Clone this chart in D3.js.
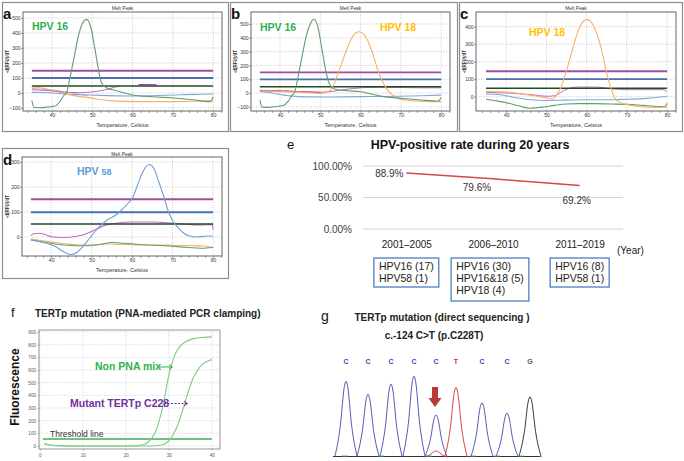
<!DOCTYPE html>
<html><head><meta charset="utf-8">
<script src="https://cdn.jsdelivr.net/npm/d3@7"></script>
<style>
body{margin:0;background:#fff;}
svg{display:block;font-family:"Liberation Sans",Arial,sans-serif;}
</style></head><body>
<svg id="chart" width="684" height="461"></svg>
<script>
// ================= DATA =================
// Melt peak panels (temperature °C, -d(RFU)/dT)
const meltTicksX = [40, 50, 60, 70, 80];
// panel a
const aLevels = [148, 100, 47];
const aHpv16 = [[35,-50],[35.5,-95],[37,-98],[39,-93],[41,-85],[42,-55],[43,-15],[43.6,0],[44.5,108],[45.5,240],[46.5,375],[47.5,460],[48.6,491],[49.6,440],[50.7,287],[51.5,160],[52.3,67],[53.6,33],[56,15],[60,-13],[65,-25],[70,-33],[75,-45],[79.3,-58],[80,-25]];
const aOrange = [[35,40],[37,35],[39,25],[41,12],[43,-2],[44.5,-13],[46.5,-22],[48.6,-29],[51,-40],[54.4,-51],[58,-56],[64,-58],[70,-57],[75,-55],[80,-51]];
const aBlue = [[35,4],[38,3],[41,-2],[44,-8],[48,-12],[52,-16],[56,-19],[60,-20],[64,-19],[68,-15],[72,-12],[76,-9],[80,-7]];
const aMagenta = [[35,22],[38,18],[41,12],[44,4],[47,2],[50,8],[53,20],[55.5,38],[57,46]];
const aMagenta2 = [[61.5,55],[66,54]];
const aPink = [[35,30],[37,27],[40,20],[43,8],[46,-5],[49,-20]];
// panel b
const bLevels = [150, 99, 46];
const bHpv16 = [[35,-50],[35.5,-100],[37,-104],[39,-97],[41,-88],[42,-60],[43,-15],[43.6,5],[44.5,120],[45.5,270],[46.5,410],[47.5,500],[48.4,534],[49.4,480],[50.4,320],[51.3,170],[52.2,70],[53.5,30],[56,18],[60,9],[65,-22],[70,-38],[75,-50],[79.3,-58],[80,-30]];
const bOrange = [[35,15],[40,10],[45,5],[50,-2],[51.5,5],[52.8,30],[54.4,142],[56,270],[57.5,380],[58.8,435],[59.8,444],[61,420],[62.5,330],[64.3,167],[65.5,80],[67,10],[68.5,-25],[70.1,-46],[74,-58],[78,-62],[80,-62]];
const bBlue = [[35,10],[37,5],[39,-5],[41,-15],[44,-24],[48,-28],[52,-29],[56,-28],[60,-26],[65,-25],[70,-23],[75,-20],[80,-15]];
const bMagenta = [[35,20],[38,18],[42,14],[46,9],[50,6],[53,12],[56,25],[60,38],[65,42],[70,40],[75,38],[80,38]];
const bRed = [[35,18],[38,17],[42,13],[46,9],[50,5]];
// panel c
const cLevels = [145, 100, 48];
const cOrange = [[35,30],[38,28],[41,25],[44,15],[47,5],[50,-8],[51.5,-15],[52.5,10],[53.5,48],[55,150],[56.9,305],[58.5,410],[60.2,442],[61.7,405],[63.5,286],[65.2,114],[66.8,0],[68,-30],[69.3,-40],[72,-53],[76,-61],[80,-60]];
const cGreen = [[35,-15],[37,-22],[40,-34],[43,-52],[46,-66],[49,-60],[52,-50],[55,-42],[58,-40],[62,-40],[66,-42],[70,-44],[74,-50],[78,-56],[79.5,-57],[80,-38]];
const cBlue = [[35,15],[38,12],[40,5],[43,-8],[46,-18],[50,-22],[55,-20],[60,-18],[65,-18],[70,-15],[75,-10],[80,2]];
const cMagenta = [[35,25],[38,22],[41,20],[44,15],[47,10],[50,2],[52,5],[54,30],[56,50],[58,55],[62,55],[66,45],[70,40],[75,40],[79,40],[80,28]];
// panel d
const dLevels = [151, 99, 52];
const dHpv58 = [[35,-12],[37,-18],[39,-25],[41,-38],[43,-58],[44.8,-70],[46.5,-60],[48,-35],[49.5,-5],[51,25],[52.5,50],[54,70],[56,88],[57.5,110],[59,135],[60.2,160],[61.5,215],[62.8,265],[64.2,290],[65.5,270],[66.5,225],[67.7,168],[69,100],[70.2,60],[71.5,35],[72.7,16],[74,5],[76,0],[78,3],[80,4]];
const dMagenta = [[35,5],[35.6,13],[37,15],[38.5,10],[40,1],[43,-2],[46,2],[49,15],[51,30],[53,45],[56,55],[60,60],[65,60],[70,55],[74,50],[77,48],[79.8,50],[80,30]];
const dOrange = [[35,-8],[38,-15],[41,-22],[44,-28],[47,-32],[50,-32],[54,-28],[58,-30],[62,-32],[66,-32],[70,-33],[74,-34],[78,-36],[80,-42]];
const dGreen = [[35,-12],[38,-20],[41,-28],[44,-33],[48,-35],[52,-30],[55,-22],[58,-25],[62,-30],[66,-33],[70,-37],[74,-42],[77,-45],[80,-42]];

// Panel e: HPV-positive rate
const periods = ["2001\u20132005", "2006\u20132010", "2011\u20132019"];
const positiveRate = [0.889, 0.796, 0.692];
const rateLabels = ["88.9%", "79.6%", "69.2%"];
const rateTicks = [0, 0.5, 1];
const genotypes = [
  ["HPV16 (17)", "HPV58 (1)"],
  ["HPV16 (30)", "HPV16&18 (5)", "HPV18 (4)"],
  ["HPV16 (8)", "HPV58 (1)"]
];

// Panel f: PNA-mediated PCR clamping (cycle, fluorescence)
const cycleTicks = [0, 10, 20, 30, 40];
const fluoTicks = [0, 100, 200, 300, 400, 500, 600, 700, 800, 900];
const nonPnaMix = [[1,20],[2,12],[3,6],[5,2],[10,0],[15,0],[20,0],[22,2],[24,10],[25,25],[26,60],[27,120],[28,230],[29,380],[30,560],[31,680],[32,760],[33,800],[34,825],[35,840],[36,850],[38,858],[40,862]];
const mutantC228 = [[1,15],[2,8],[3,4],[5,1],[10,0],[15,0],[20,0],[26,0],[28,5],[29,15],[30,40],[31,90],[32,160],[33,260],[34,370],[35,480],[36,560],[37,615],[38,650],[39,670],[40,682]];
const thresholdValue = 55;
const thresholdRange = [0.7, 40];

// Panel g: sequencing chromatogram
const seqBases = ["C","C","C","C","C","T","C","C","G"];
const seqPeakScan = [12, 23, 34.5, 46, 57, 67, 80, 92.5, 104];
const seqPeakHeight = [88, 73, 85, 94, 49, 81, 63, 51, 70];
const minorTBump = [57, 7];

// ================= DRAWING =================
const svg = d3.select("#chart");
const C = {
  green: "#5f9e6e", orange: "#f6b26b", lblue: "#7ea9d8", magenta: "#c26ac2",
  purple: "#9d4f9f", blue: "#4d6fae", dgreen: "#1f4d1f", pink: "#e7a7c9",
  hpv16: "#2db34d", hpv18: "#ffc000", hpv58: "#5b9bd5", red: "#b5444a"
};

function drawMelt(c) {
  const [fx0, fy0, fx1, fy1] = c.frame;
  const [px0, py0, px1, py1] = c.plot;
  const g = svg.append("g");
  g.append("rect").attr("x", fx0 + .5).attr("y", fy0 + .5)
    .attr("width", fx1 - fx0).attr("height", fy1 - fy0)
    .attr("fill", "#fff").attr("stroke", "#8e8e8e").attr("stroke-width", 1.2);
  const x = d3.scaleLinear().domain(c.xDomain).range([px0, px1]);
  const y = d3.scaleLinear().domain(c.yDomain).range([py1, py0]);
  // grid
  g.selectAll(".gx").data(meltTicksX).join("line")
    .attr("x1", d => x(d)).attr("x2", d => x(d)).attr("y1", py0).attr("y2", py1)
    .attr("stroke", "#a8a8a8").attr("stroke-width", 0.6).attr("stroke-dasharray", "1,1.5");
  g.selectAll(".gy").data(c.yTicks).join("line")
    .attr("x1", px0).attr("x2", px1).attr("y1", d => y(d)).attr("y2", d => y(d))
    .attr("stroke", "#a8a8a8").attr("stroke-width", 0.6).attr("stroke-dasharray", "1,1.5");
  // axes
  const ax = g.append("g").attr("transform", `translate(0,${py1})`)
    .call(d3.axisBottom(x).tickValues(d3.range(34, 83, 2)).tickSize(2).tickFormat(d => meltTicksX.includes(d) ? d : ""));
  const ay = g.append("g").attr("transform", `translate(${px0},0)`)
    .call(d3.axisLeft(y).tickValues(c.yTicks).tickSize(2));
  [ax, ay].forEach(a => {
    a.select(".domain").remove();
    a.selectAll("line").attr("stroke", "#444").attr("stroke-width", 0.5);
    a.selectAll("text").attr("font-size", 5).attr("fill", "#333");
  });
  ax.selectAll("text").attr("dy", "0.9em").attr("y", 1.5);
  ay.selectAll("text").attr("x", -2.5);
  g.append("rect").attr("x", px0).attr("y", py0).attr("width", px1 - px0).attr("height", py1 - py0)
    .attr("fill", "none").attr("stroke", "#555").attr("stroke-width", 0.9);
  // labels
  g.append("text").attr("x", (px0 + px1) / 2).attr("y", fy0 + 7.5).attr("text-anchor", "middle")
    .attr("font-size", 4.8).attr("fill", "#333").text("Melt Peak");
  g.append("text").attr("transform", `translate(${fx0 + 7},${(py0 + py1) / 2}) rotate(-90)`)
    .attr("text-anchor", "middle").attr("font-size", 4.5).attr("font-weight", "bold").attr("fill", "#333").text("-d(RFU)/dT");
  g.append("text").attr("x", (px0 + px1) / 2).attr("y", py1 + 15.5).attr("text-anchor", "middle")
    .attr("font-size", 5.5).attr("fill", "#333").text("Temperature, Celsius");
  g.append("text").attr("x", fx0 + 1).attr("y", fy0 + 17).attr("font-size", 15).attr("font-weight", "bold")
    .attr("fill", "#111").text(c.letter);
  // level lines
  const clip = "clip" + c.letter;
  g.append("clipPath").attr("id", clip).append("rect").attr("x", px0).attr("y", py0).attr("width", px1 - px0).attr("height", py1 - py0);
  const pg = g.append("g").attr("clip-path", `url(#${clip})`);
  const line = d3.line().x(d => x(d[0])).y(d => y(d[1])).curve(d3.curveMonotoneX);
  c.series.forEach(s => {
    pg.append("path").attr("d", line(s.data)).attr("fill", "none").attr("stroke", s.color)
      .attr("stroke-width", s.w || 1).attr("stroke-dasharray", s.dash || null);
  });
  const levelColors = [C.purple, C.blue, C.dgreen];
  c.levels.forEach((v, i) => {
    pg.append("line").attr("x1", x(35)).attr("x2", x(80)).attr("y1", y(v)).attr("y2", y(v))
      .attr("stroke", levelColors[i]).attr("stroke-width", i === 2 ? 1.4 : 1.9);
  });
  (c.late || []).forEach(s => {
    pg.append("path").attr("d", line(s.data)).attr("fill", "none").attr("stroke", s.color)
      .attr("stroke-width", s.w || 1);
  });
  c.labels.forEach(l => {
    const t = g.append("text").attr("x", l.x).attr("y", l.y).attr("font-size", 10.5).attr("font-weight", "bold")
      .attr("fill", l.color);
    t.append("tspan").text(l.text);
    if (l.small) t.append("tspan").attr("font-size", 9).text(l.small);
  });
}

drawMelt({
  letter: "a", frame: [2, 2, 228, 131], plot: [23, 12, 222, 111],
  xDomain: [32.8, 82.2], yDomain: [-120, 540], yTicks: [-100, 0, 100, 200, 300, 400, 500],
  levels: aLevels,
  series: [
    { data: aPink, color: C.pink }, { data: aBlue, color: C.lblue, w: 1.1 },
    { data: aOrange, color: C.orange, w: 1.2 }, { data: aMagenta, color: C.magenta },
  ],
  late: [{ data: aMagenta2, color: "#8a3a8a", w: 1.5 }, { data: aHpv16, color: C.green, w: 1.1 }],
  labels: [{ x: 32, y: 30, text: "HPV 16", color: C.hpv16 }]
});
drawMelt({
  letter: "b", frame: [230, 2, 457, 131], plot: [251, 12, 450, 111],
  xDomain: [32.8, 82.2], yDomain: [-130, 587], yTicks: [-100, 0, 100, 200, 300, 400, 500],
  levels: bLevels,
  series: [
    { data: bBlue, color: C.lblue, w: 1.1 }, { data: bRed, color: "#a03040" },
    { data: bMagenta, color: C.magenta },
  ],
  late: [{ data: bOrange, color: C.orange, w: 1.1 }, { data: bHpv16, color: C.green, w: 1.1 }],
  labels: [{ x: 260, y: 30.5, text: "HPV 16", color: C.hpv16 }, { x: 380, y: 30.5, text: "HPV 18", color: C.hpv18 }]
});
drawMelt({
  letter: "c", frame: [459, 2, 682, 131], plot: [476, 12, 676, 111],
  xDomain: [32.5, 82.2], yDomain: [-82, 484], yTicks: [0, 100, 200, 300, 400],
  levels: cLevels,
  series: [
    { data: cGreen, color: C.green, w: 1.1 }, { data: cBlue, color: C.lblue, w: 1.1 },
    { data: cMagenta, color: C.magenta },
  ],
  late: [{ data: cOrange, color: C.orange, w: 1.1 }],
  labels: [{ x: 529, y: 36, text: "HPV 18", color: C.hpv18 }]
});
drawMelt({
  letter: "d", frame: [2, 148, 228, 278], plot: [22, 157, 222, 256],
  xDomain: [32.8, 82.2], yDomain: [-76, 320], yTicks: [0, 100, 200, 300],
  levels: dLevels,
  series: [
    { data: dOrange, color: C.orange, w: 1.2 }, { data: dGreen, color: C.green, w: 1.1 },
    { data: dMagenta, color: C.magenta, w: 1.1 },
  ],
  late: [{ data: dHpv58, color: "#6d9fd6", w: 1.1 }],
  labels: [{ x: 77, y: 174.5, text: "HPV ", small: "58", color: C.hpv58 }]
});

// ----- Panel e -----
(function () {
  const g = svg.append("g");
  const x = d3.scalePoint().domain(periods).range([363, 623]).padding(0.5);
  const y = d3.scaleLinear().domain([0, 1]).range([229, 166]);
  g.append("text").attr("x", 287).attr("y", 149).attr("font-size", 13).attr("fill", "#111").text("e");
  g.append("text").attr("x", 470).attr("y", 149).attr("text-anchor", "middle").attr("font-size", 12.5)
    .attr("font-weight", "bold").attr("fill", "#111").text("HPV-positive rate during 20 years");
  g.selectAll(".grid").data(rateTicks).join("line")
    .attr("x1", 363).attr("x2", 623).attr("y1", d => y(d)).attr("y2", d => y(d))
    .attr("stroke", "#d4d4d4").attr("stroke-width", 1);
  const ay = g.append("g").attr("transform", "translate(363,0)")
    .call(d3.axisLeft(y).tickValues(rateTicks).tickSize(0).tickPadding(11).tickFormat(d3.format(".2%")));
  ay.select(".domain").remove();
  ay.selectAll("text").attr("font-size", 10).attr("fill", "#404040");
  const ax = g.append("g").attr("transform", "translate(0,229)")
    .call(d3.axisBottom(x).tickSize(0).tickPadding(12));
  ax.select(".domain").remove();
  ax.selectAll("text").attr("font-size", 10).attr("fill", "#222");
  g.append("text").attr("x", 617).attr("y", 254).attr("font-size", 10).attr("fill", "#222").text("(Year)");
  const line = d3.line().x((d, i) => x(periods[i])).y(d => y(d));
  g.append("path").attr("d", line(positiveRate)).attr("fill", "none").attr("stroke", "#d24a43").attr("stroke-width", 1.5);
  const lblOff = [[-17, 4], [-16, 12], [-3, 19]];
  g.selectAll(".rl").data(rateLabels).join("text")
    .attr("x", (d, i) => x(periods[i]) + lblOff[i][0]).attr("y", (d, i) => y(positiveRate[i]) + lblOff[i][1])
    .attr("text-anchor", "middle").attr("font-size", 10).attr("fill", "#333").text(d => d);
  const boxOff = [0, -3, 0];
  genotypes.forEach((lines, i) => {
    const bg = g.append("g");
    const t = bg.append("text").attr("font-size", 10.5).attr("fill", "#222");
    lines.forEach((s, j) => t.append("tspan").attr("x", 0).attr("y", 269.5 + j * 12.4).text(s));
    const bb = t.node().getBBox();
    const cx = x(periods[i]) + boxOff[i];
    const left = cx - bb.width / 2;
    t.attr("transform", `translate(${left},0)`);
    bg.insert("rect", "text").attr("x", left - 5).attr("y", 258).attr("width", bb.width + 10)
      .attr("height", lines.length === 3 ? 43 : 29).attr("fill", "#fff").attr("stroke", "#4a7ebf").attr("stroke-width", 1.3);
  });
})();

// ----- Panel f -----
(function () {
  const g = svg.append("g");
  const px0 = 39, px1 = 220, py0 = 330, py1 = 449;
  const x = d3.scaleLinear().domain([-0.2, 41.9]).range([px0, px1]);
  const y = d3.scaleLinear().domain([-24, 916]).range([py1, py0]);
  g.append("text").attr("x", 11).attr("y", 317).attr("font-size", 13).attr("fill", "#111").text("f");
  g.append("text").attr("x", 35).attr("y", 317).attr("font-size", 10).attr("font-weight", "bold").attr("fill", "#222")
    .text("TERTp mutation (PNA-mediated PCR clamping)");
  g.selectAll(".gx").data(cycleTicks).join("line").attr("x1", d => x(d)).attr("x2", d => x(d)).attr("y1", py0).attr("y2", py1)
    .attr("stroke", "#b8b8b8").attr("stroke-width", 0.6).attr("stroke-dasharray", "1,1.5");
  g.selectAll(".gy").data(fluoTicks).join("line").attr("x1", px0).attr("x2", px1).attr("y1", d => y(d)).attr("y2", d => y(d))
    .attr("stroke", "#b8b8b8").attr("stroke-width", 0.6).attr("stroke-dasharray", "1,1.5");
  g.append("rect").attr("x", px0).attr("y", py0).attr("width", px1 - px0).attr("height", py1 - py0)
    .attr("fill", "none").attr("stroke", "#8a8a8a").attr("stroke-width", 0.9);
  const ax = g.append("g").attr("transform", `translate(0,${py1})`).call(d3.axisBottom(x).tickValues(cycleTicks).tickSize(1.5));
  const ay = g.append("g").attr("transform", `translate(${px0},0)`).call(d3.axisLeft(y).tickValues(fluoTicks).tickSize(1.5));
  [ax, ay].forEach(a => {
    a.select(".domain").remove();
    a.selectAll("line").attr("stroke", "#777").attr("stroke-width", 0.5);
    a.selectAll("text").attr("font-size", 4.6).attr("fill", "#555");
  });
  ay.selectAll("text").attr("x", -3);
  g.append("text").attr("transform", "translate(19,387) rotate(-90)").attr("text-anchor", "middle")
    .attr("font-size", 12).attr("font-weight", "bold").attr("fill", "#111").text("Fluorescence");
  const line = d3.line().x(d => x(d[0])).y(d => y(d[1])).curve(d3.curveMonotoneX);
  g.append("line").attr("x1", x(thresholdRange[0])).attr("x2", x(thresholdRange[1]))
    .attr("y1", y(thresholdValue)).attr("y2", y(thresholdValue)).attr("stroke", "#3fae4f").attr("stroke-width", 1.3);
  [nonPnaMix, mutantC228].forEach(d => {
    g.append("path").attr("d", line(d)).attr("fill", "none").attr("stroke", "#7fcc85").attr("stroke-width", 1.1);
  });
  // annotations
  g.append("text").attr("x", 95).attr("y", 370).attr("font-size", 10.5).attr("font-weight", "bold").attr("fill", "#2db34d").text("Non PNA mix");
  g.append("line").attr("x1", 158).attr("x2", 172).attr("y1", 367).attr("y2", 367).attr("stroke", "#2db34d").attr("stroke-width", 1);
  g.append("path").attr("d", "M169,364.5 L172.5,367 L169,369.5").attr("fill", "none").attr("stroke", "#2db34d").attr("stroke-width", 1);
  g.append("text").attr("x", 70).attr("y", 406.5).attr("font-size", 10.5).attr("font-weight", "bold").attr("fill", "#7030a0").text("Mutant TERTp C228");
  g.append("line").attr("x1", 164).attr("x2", 187).attr("y1", 403.5).attr("y2", 403.5).attr("stroke", "#7030a0").attr("stroke-width", 1).attr("stroke-dasharray", "2,1.5");
  g.append("path").attr("d", "M184,401 L187.5,403.5 L184,406").attr("fill", "none").attr("stroke", "#7030a0").attr("stroke-width", 1);
  g.append("text").attr("x", 50).attr("y", 436.5).attr("font-size", 8.5).attr("fill", "#333").text("Threshold line");
})();

// ----- Panel g -----
(function () {
  const g = svg.append("g");
  g.append("text").attr("x", 321).attr("y", 321).attr("font-size", 14).attr("fill", "#111").text("g");
  g.append("text").attr("x", 442).attr("y", 321).attr("text-anchor", "middle").attr("font-size", 10).attr("font-weight", "bold")
    .attr("fill", "#222").text("TERTp mutation (direct sequencing )");
  g.append("text").attr("x", 434).attr("y", 339).attr("text-anchor", "middle").attr("font-size", 10).attr("font-weight", "bold")
    .attr("fill", "#222").text("c.-124 C>T (p.C228T)");
  const x = d3.scaleLinear().domain([5.5, 109]).range([333, 540]);
  const y = d3.scaleLinear().domain([0, 100]).range([457, 371]);
  const baseColor = b => b === "T" ? "#cc3333" : b === "G" ? "#555" : "#4545b0";
  g.selectAll(".bl").data(seqBases).join("text")
    .attr("x", (d, i) => x(seqPeakScan[i])).attr("y", 364).attr("text-anchor", "middle")
    .attr("font-size", 7).attr("font-weight", "bold").attr("fill", baseColor).text(d => d);
  const hw = 5.6;
  const line = d3.line().x(d => x(d[0])).y(d => y(d[1])).curve(d3.curveMonotoneX);
  const peakPts = (p, h) => [[p - hw, 0], [p - hw * 0.5, h * 0.42], [p - hw * 0.15, h * 0.93], [p, h], [p + hw * 0.15, h * 0.93], [p + hw * 0.5, h * 0.42], [p + hw, 0]];
  // baseline
  g.append("line").attr("x1", x(5.5)).attr("x2", x(109)).attr("y1", y(0) - 0.5).attr("y2", y(0) - 0.5).attr("stroke", "#333").attr("stroke-width", 1);
  seqBases.forEach((b, i) => {
    const pts = peakPts(seqPeakScan[i], seqPeakHeight[i]);
    g.append("path").attr("d", line(pts)).attr("fill", "none").attr("stroke", baseColor(b) === "#555" ? "#222" : baseColor(b)).attr("stroke-width", 0.9);
  });
  g.append("path").attr("d", line(peakPts(minorTBump[0], minorTBump[1]))).attr("fill", "none").attr("stroke", "#cc3333").attr("stroke-width", 0.9);
  // small green noise at baseline
  g.selectAll(".gn").data([10, 28, 52, 74, 86, 98]).join("line")
    .attr("x1", d => x(d)).attr("x2", d => x(d + 3)).attr("y1", y(1)).attr("y2", y(1)).attr("stroke", "#3a9a3a").attr("stroke-width", 1);
  // red arrow
  const ax = x(seqPeakScan[4]) - 1;
  g.append("path").attr("d", `M${ax - 3},387 L${ax + 3},387 L${ax + 3},398 L${ax + 6.5},398 L${ax},407 L${ax - 6.5},398 L${ax - 3},398 Z`)
    .attr("fill", "#b83a33");
})();
</script>
</body></html>
